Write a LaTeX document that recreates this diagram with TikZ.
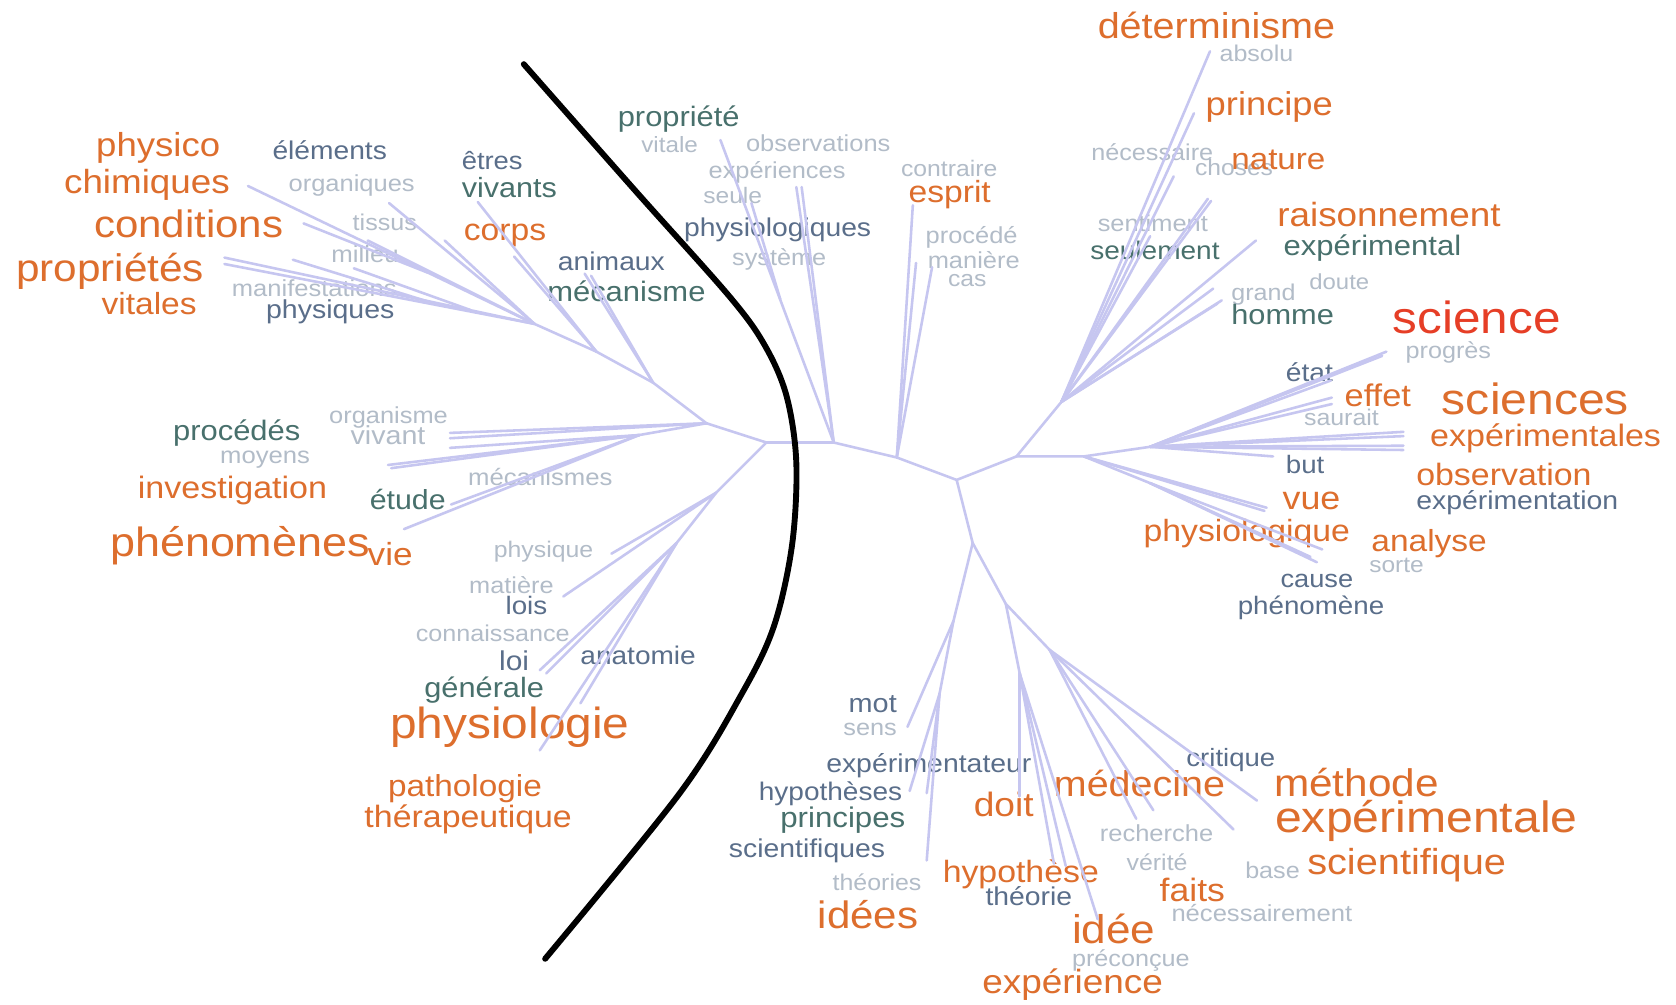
\documentclass[tikz,border=0pt]{standalone}
\usepackage{fontspec}
\setmainfont{Liberation Sans}
\usepackage{graphicx}
\definecolor{wOrange}{RGB}{221,110,45}
\definecolor{wRed}{RGB}{230,62,38}
\definecolor{wTeal}{RGB}{72,112,108}
\definecolor{wSlate}{RGB}{90,110,138}
\definecolor{wLight}{RGB}{178,188,200}
\definecolor{lav}{RGB}{198,198,240}
% a word of the tree, scaled to a given width
\newcommand\tw[2]{\resizebox{#1pt}{!}{\scalebox{1.1}[1]{#2}}}
\begin{document}
\begin{tikzpicture}[x=1pt,y=-1pt,
  word/.style={anchor=base west,inner sep=0pt,outer sep=0pt},
  wO/.style={word,text=wOrange},
  wR/.style={word,text=wRed},
  wT/.style={word,text=wTeal},
  wS/.style={word,text=wSlate},
  wL/.style={word,text=wLight},
  branch/.style={draw=lav,line width=2.4pt,line cap=round,line join=round},
  divider/.style={draw=black,line width=5.5pt,line cap=round}]
\fill[white] (0,0) rectangle (1568,940);
\useasboundingbox (0,0) rectangle (1568,940);

% ---------- words ----------
% upper left
\node[wO] (physico) at (90,146) {\tw{116}{physico}};
\node[wO] (chimiques) at (60,181) {\tw{155}{chimiques}};
\node[wO] (conditions) at (88,222) {\tw{177}{conditions}};
\node[wO] (proprietes) at (15,263) {\tw{176}{propriétés}};
\node[wO] (vitales) at (95,294) {\tw{89}{vitales}};
\node[wS] (elements) at (255,149) {\tw{107}{éléments}};
\node[wL] (organiques) at (270,179) {\tw{118}{organiques}};
\node[wL] (tissus) at (330,216) {\tw{60}{tissus}};
\node[wL] (milieu) at (310,246) {\tw{63}{milieu}};
\node[wL] (manifestations) at (217,277) {\tw{154}{manifestations}};
\node[wS] (physiques) at (249,298) {\tw{120}{physiques}};
\node[wS] (etres) at (432,159) {\tw{57}{êtres}};
\node[wT] (vivants) at (432,185) {\tw{89}{vivants}};
\node[wO] (corps) at (434,225) {\tw{77}{corps}};
\node[wS] (animaux) at (522,253) {\tw{100}{animaux}};
\node[wT] (mecanisme) at (512,282) {\tw{148}{mécanisme}};
% upper centre
\node[wT] (propriete) at (578,118) {\tw{114}{propriété}};
\node[wL] (vitale) at (600,143) {\tw{53}{vitale}};
\node[wL] (observations) at (698,142) {\tw{135}{observations}};
\node[wL] (experiences) at (663,167) {\tw{128}{expériences}};
\node[wL] (seule) at (658,190) {\tw{55}{seule}};
\node[wS] (physiologiques) at (640,221) {\tw{175}{physiologiques}};
\node[wL] (systeme) at (685,248) {\tw{88}{système}};
\node[wL] (contraire) at (843,165) {\tw{90}{contraire}};
\node[wO] (esprit) at (850,189) {\tw{77}{esprit}};
\node[wL] (procede) at (866,228) {\tw{86}{procédé}};
\node[wL] (maniere) at (868,251) {\tw{86}{manière}};
\node[wL] (cas) at (887,268) {\tw{36}{cas}};
% upper right
\node[wO] (determinisme) at (1027,36) {\tw{222}{déterminisme}};
\node[wL] (absolu) at (1141,58) {\tw{69}{absolu}};
\node[wO] (principe) at (1128,108) {\tw{119}{principe}};
\node[wL] (necessaire) at (1021,150) {\tw{114}{nécessaire}};
\node[wL] (choses) at (1118,164) {\tw{73}{choses}};
\node[wO] (nature) at (1152,159) {\tw{88}{nature}};
\node[wL] (sentiment) at (1027,217) {\tw{103}{sentiment}};
\node[wT] (seulement) at (1020,243) {\tw{121}{seulement}};
\node[wO] (raisonnement) at (1195,212) {\tw{209}{raisonnement}};
\node[wT] (experimental) at (1201,239) {\tw{166}{expérimental}};
\node[wL] (doute) at (1225,271) {\tw{56}{doute}};
\node[wL] (grand) at (1152,281) {\tw{60}{grand}};
\node[wT] (homme) at (1152,304) {\tw{96}{homme}};
\node[wR] (science) at (1303,312) {\tw{157}{science}};
\node[wL] (progres) at (1315,335) {\tw{80}{progrès}};
% right
\node[wS] (etat) at (1203,357) {\tw{44}{état}};
\node[wO] (effet) at (1258,380) {\tw{62}{effet}};
\node[wL] (saurait) at (1220,398) {\tw{70}{saurait}};
\node[wO] (sciences) at (1349,388) {\tw{175}{sciences}};
\node[wO] (experimentales) at (1338,418) {\tw{216}{expérimentales}};
\node[wS] (but) at (1203,443) {\tw{36}{but}};
\node[wO] (observation) at (1325,454) {\tw{164}{observation}};
\node[wS] (experimentation) at (1325,477) {\tw{189}{expérimentation}};
\node[wO] (vue) at (1200,477) {\tw{54}{vue}};
\node[wO] (physiologique) at (1070,507) {\tw{193}{physiologique}};
\node[wO] (analyse) at (1283,516) {\tw{108}{analyse}};
\node[wL] (sorte) at (1281,536) {\tw{51}{sorte}};
\node[wS] (cause) at (1198,550) {\tw{68}{cause}};
\node[wS] (phenomene) at (1158,575) {\tw{137}{phénomène}};
% left middle
\node[wL] (organisme) at (308,396) {\tw{111}{organisme}};
\node[wL] (vivant) at (328,416) {\tw{70}{vivant}};
\node[wT] (procedes) at (162,412) {\tw{119}{procédés}};
\node[wL] (moyens) at (206,434) {\tw{84}{moyens}};
\node[wO] (investigation) at (129,466) {\tw{177}{investigation}};
\node[wL] (mecanismes) at (438,454) {\tw{135}{mécanismes}};
\node[wT] (etude) at (346,477) {\tw{71}{étude}};
\node[wO] (phenomenes) at (103,521) {\tw{243}{phénomènes}};
\node[wO] (vie) at (344,529) {\tw{42}{vie}};
\node[wL] (physique) at (462,522) {\tw{93}{physique}};
\node[wL] (matiere) at (439,555) {\tw{79}{matière}};
\node[wS] (lois) at (473,575) {\tw{39}{lois}};
\node[wL] (connaissance) at (389,600) {\tw{144}{connaissance}};
\node[wS] (loi) at (467,627) {\tw{28}{loi}};
\node[wS] (anatomie) at (543,622) {\tw{108}{anatomie}};
\node[wT] (generale) at (397,653) {\tw{112}{générale}};
\node[wO] (physiologie) at (365,691) {\tw{224}{physiologie}};
\node[wO] (pathologie) at (363,745) {\tw{144}{pathologie}};
\node[wO] (therapeutique) at (341,774) {\tw{194}{thérapeutique}};
% bottom
\node[wS] (mot) at (794,667) {\tw{45}{mot}};
\node[wL] (sens) at (789,688) {\tw{50}{sens}};
\node[wS] (experimentateur) at (773,723) {\tw{192}{expérimentateur}};
\node[wS] (hypotheses) at (710,749) {\tw{134}{hypothèses}};
\node[wT] (principes) at (730,774) {\tw{117}{principes}};
\node[wS] (scientifiques) at (682,802) {\tw{146}{scientifiques}};
\node[wL] (theories) at (779,833) {\tw{83}{théories}};
\node[wO] (idees) at (765,869) {\tw{94}{idées}};
\node[wO] (doit) at (911,764) {\tw{56}{doit}};
\node[wO] (medecine) at (986,745) {\tw{160}{médecine}};
\node[wS] (critique) at (1110,717) {\tw{83}{critique}};
\node[wO] (methode) at (1192,745) {\tw{154}{méthode}};
\node[wO] (experimentale) at (1193,779) {\tw{283}{expérimentale}};
\node[wL] (recherche) at (1029,787) {\tw{106}{recherche}};
\node[wL] (verite) at (1054,814) {\tw{57}{vérité}};
\node[wL] (base) at (1165,822) {\tw{51}{base}};
\node[wO] (scientifique) at (1223,818) {\tw{186}{scientifique}};
\node[wO] (hypothese) at (882,826) {\tw{146}{hypothèse}};
\node[wS] (theorie) at (922,847) {\tw{81}{théorie}};
\node[wO] (faits) at (1085,843) {\tw{61}{faits}};
\node[wL] (necessairement) at (1096,862) {\tw{169}{nécessairement}};
\node[wO] (idee) at (1003,883) {\tw{78}{idée}};
\node[wL] (preconcue) at (1003,904) {\tw{110}{préconçue}};
\node[wO] (experience) at (919,929) {\tw{169}{expérience}};

% ---------- junctions ----------
\coordinate (A) at (717,414);
\coordinate (B) at (780,414);
\coordinate (C) at (839,428);
\coordinate (D) at (895,449);
\coordinate (E) at (951,427);
\coordinate (F) at (910,508);
\coordinate (G) at (661,396);
\coordinate (H) at (670,461);
\coordinate (I) at (611,358);
\coordinate (J) at (558,329);
\coordinate (K) at (500,303);
\coordinate (R) at (993,376);
\coordinate (S1) at (1014,427);
\coordinate (S2) at (1076,418);
\coordinate (P4) at (1076,452);
\coordinate (T) at (941,565);
\coordinate (T1) at (954,630);
\coordinate (T2) at (982,608);
\coordinate (U) at (892,581);
\coordinate (U2) at (879,649);
\coordinate (V1) at (598,407);
\coordinate (Q1) at (633,508);
\coordinate (jCond) at (400,255);
\coordinate (jMan) at (400,282);
\coordinate (jMan2) at (440,290);
\coordinate (jSeule) at (730,280);

% ---------- leaf ends ----------
\coordinate (eMeca1) at (547,256);
\coordinate (eMeca2) at (553,258);
\coordinate (eViv) at (447,189);
\coordinate (eCorps) at (481,240);
\coordinate (eOrg) at (364,190);
\coordinate (eTiss) at (416,225);
\coordinate (eMil) at (344,225);
\coordinate (eChim) at (232,174);
\coordinate (eCond) at (284,209);
\coordinate (eProp1) at (210,241);
\coordinate (eProp2) at (210,247);
\coordinate (eMan) at (274,243);
\coordinate (eMan2) at (331,251);
\coordinate (ePropr) at (674,131);
\coordinate (eSeule) at (703,190);
\coordinate (eObs1) at (745,175);
\coordinate (eObs2) at (750,175);
\coordinate (eEsp) at (854,192);
\coordinate (eMan1) at (857,246);
\coordinate (eMan3) at (872,250);
\coordinate (eAbs) at (1132,48);
\coordinate (ePrin) at (1117,106);
\coordinate (eNec) at (1098,165);
\coordinate (eCho1) at (1130,186);
\coordinate (eCho2) at (1133,188);
\coordinate (eSent) at (1076,221);
\coordinate (eRais) at (1175,225);
\coordinate (eGrand) at (1135,270);
\coordinate (eHom1) at (1143,281);
\coordinate (eHom2) at (1139,284);
\coordinate (eSci1) at (1297,329);
\coordinate (eSci2) at (1293,333);
\coordinate (eEtat) at (1245,356);
\coordinate (eEff1) at (1246,372);
\coordinate (eEff2) at (1246,378);
\coordinate (eScs1) at (1313,404);
\coordinate (eScs2) at (1313,408);
\coordinate (eScs3) at (1313,417);
\coordinate (eScs4) at (1313,421);
\coordinate (eBut) at (1191,427);
\coordinate (eVue1) at (1185,475);
\coordinate (eVue2) at (1183,478);
\coordinate (ePhy1) at (1237,514);
\coordinate (ePhy2) at (1232,526);
\coordinate (ePhy3) at (1226,521);
\coordinate (eOrgm1) at (421,405);
\coordinate (eOrgm2) at (421,410);
\coordinate (eViv2) at (421,419);
\coordinate (eMoy1) at (363,435);
\coordinate (eMoy2) at (366,438);
\coordinate (eEtu) at (422,472);
\coordinate (eVie) at (378,495);
\coordinate (eMat) at (527,558);
\coordinate (ePhq) at (572,518);
\coordinate (eLoi1) at (511,630);
\coordinate (eLoi2) at (505,627);
\coordinate (eAna) at (543,658);
\coordinate (ePhg) at (505,702);
\coordinate (eMot) at (849,680);
\coordinate (eHyp1) at (851,740);
\coordinate (eHyp2) at (867,742);
\coordinate (eTheo) at (867,805);
\coordinate (eDoit) at (954,745);
\coordinate (eHyp3) at (986,808);
\coordinate (eHyp4) at (997,810);
\coordinate (eIdee) at (1027,860);
\coordinate (eRech) at (1063,766);
\coordinate (eMed) at (1079,758);
\coordinate (eExp) at (1154,776);
\coordinate (eMeth) at (1176,749);

% ---------- branches ----------
% trunk
\draw[branch] (A) -- (B) -- (C) -- (D) -- (E);
\draw[branch] (D) -- (F);
\draw[branch] (A) -- (G);
\draw[branch] (A) -- (H);
% upper left
\draw[branch] (G) -- (I) -- (J) -- (K);
\draw[branch] (I) -- (eMeca1);
\draw[branch] (I) -- (eMeca2);
\draw[branch] (J) -- (eViv);
\draw[branch] (J) -- (eCorps);
\draw[branch] (K) -- (eOrg);
\draw[branch] (K) -- (eTiss);
\draw[branch] (K) -- (eMil);
\draw[branch] (K) -- (eChim);
\draw[branch] (eCond) -- (jCond);
\draw[branch] (K) -- (eProp1);
\draw[branch] (K) -- (eProp2);
\draw[branch] (eMan) -- (jMan);
\draw[branch] (eMan2) -- (jMan2);
% upper centre
\draw[branch] (B) -- (ePropr);
\draw[branch] (eSeule) -- (jSeule);
\draw[branch] (B) -- (eObs1);
\draw[branch] (B) -- (eObs2);
\draw[branch] (C) -- (eEsp);
\draw[branch] (C) -- (eMan1);
\draw[branch] (C) -- (eMan3);
% upper right
\draw[branch] (E) -- (R);
\foreach \e in {eAbs,ePrin,eNec,eCho1,eCho2,eSent,eRais,eGrand,eHom1,eHom2}
  \draw[branch] (R) -- (\e);
% right
\draw[branch] (E) -- (S1) -- (S2);
\foreach \e in {eSci1,eSci2,eEtat,eEff1,eEff2,eScs1,eScs2,eScs3,eScs4,eBut}
  \draw[branch] (S2) -- (\e);
\draw[branch] (S1) -- (eVue1);
\draw[branch] (S1) -- (eVue2);
\draw[branch] (S1) -- (P4);
\foreach \e in {ePhy1,ePhy2,ePhy3}
  \draw[branch] (P4) -- (\e);
% left middle
\draw[branch] (G) -- (eOrgm1);
\draw[branch] (G) -- (eOrgm2);
\draw[branch] (G) -- (V1);
\foreach \e in {eViv2,eMoy1,eMoy2,eEtu,eVie}
  \draw[branch] (V1) -- (\e);
% lower left
\draw[branch] (H) -- (eMat);
\draw[branch] (H) -- (ePhq);
\draw[branch] (H) -- (Q1);
\foreach \e in {eLoi1,eLoi2,eAna,ePhg}
  \draw[branch] (Q1) -- (\e);
% bottom
\draw[branch] (F) -- (U);
\draw[branch] (F) -- (T);
\draw[branch] (U) -- (eMot);
\draw[branch] (U) -- (U2);
\foreach \e in {eHyp1,eHyp2,eTheo}
  \draw[branch] (U2) -- (\e);
\draw[branch] (T) -- (T1);
\foreach \e in {eDoit,eHyp3,eHyp4,eIdee}
  \draw[branch] (T1) -- (\e);
\draw[branch] (T) -- (T2);
\foreach \e in {eRech,eMed,eExp,eMeth}
  \draw[branch] (T2) -- (\e);

% ---------- dividing curve ----------
\draw[divider] plot[smooth,tension=0.55] coordinates {(490,60) (594,178) (683,278) (716,324) (736,371) (745,433) (741,510) (724,586) (694,649) (636,742) (510,897)};
\end{tikzpicture}
\end{document}
